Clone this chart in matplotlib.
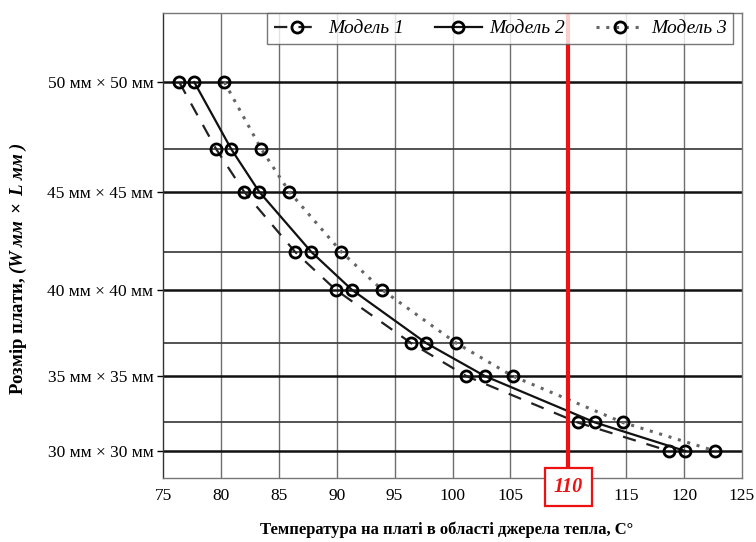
import numpy as np
import matplotlib.pyplot as plt

plt.rcParams['font.family'] = ['Liberation Serif', 'DejaVu Serif']
plt.rcParams['mathtext.fontset'] = 'custom'
plt.rcParams['mathtext.rm'] = 'Liberation Serif'
plt.rcParams['mathtext.it'] = 'Liberation Serif:italic'
plt.rcParams['mathtext.bf'] = 'Liberation Serif:bold'
plt.rcParams['mathtext.bfit'] = 'Liberation Serif:italic:bold'

# board side (mm); y axis is the board area W x L
sides = [50, 47, 45, 42, 40, 37, 35, 32, 30]
major_sides = [50, 45, 40, 35, 30]

model_1 = [76.4, 79.6, 82.0, 86.4, 89.9, 96.4, 101.2, 110.8, 118.7]
model_2 = [77.7, 80.9, 83.3, 87.8, 91.3, 97.7, 102.8, 112.3, 120.1]
model_3 = [80.3, 83.5, 85.9, 90.4, 93.9, 100.3, 105.2, 114.7, 122.7]

x_ticks = [75, 80, 85, 90, 95, 100, 105, 110, 115, 120, 125]
t_limit = 110

area = np.array(sides) ** 2

fig = plt.figure(figsize=(7.56, 5.42), dpi=100)
ax = fig.add_axes([163 / 756, 64 / 542, 579 / 756, 465 / 542])

ax.set_xlim(75, 125)
ax.set_ylim(783, 2800)

# grid
for x in x_ticks[1:-1]:
    ax.axvline(x, color='#6e6e6e', lw=1.0, zorder=1)
for s in sides:
    if s in major_sides:
        ax.axhline(s ** 2, color='#111111', lw=1.8, zorder=1)
    else:
        ax.axhline(s ** 2, color='#444444', lw=1.3, zorder=1)

mk = dict(marker='o', markersize=8, markerfacecolor='none',
          markeredgecolor='black', markeredgewidth=2.0)
ax.plot(model_1, area, color='#222222', lw=1.6, ls=(0, (6, 5)),
        label='Модель 1', zorder=3, **mk)
ax.plot(model_2, area, color='#111111', lw=1.6, ls='-',
        label='Модель 2', zorder=3, **mk)
ax.plot(model_3, area, color='#666666', lw=2.2, ls=(0, (1, 2.2)),
        label='Модель 3', zorder=3, **mk)

ax.axvline(t_limit, color='#ee1111', lw=3, zorder=4)

ax.set_xticks(x_ticks)
ax.set_xticklabels(['' if v == t_limit else str(v) for v in x_ticks], fontsize=12.5)
ax.tick_params(axis='x', length=0, pad=7)
ax.text(t_limit, 745, str(t_limit), ha='center', va='center',
        fontsize=14.5, fontweight='bold', fontstyle='italic', color='#ee1111',
        bbox=dict(boxstyle='square,pad=0.45', fc='white', ec='#ee1111', lw=1.6),
        zorder=6, clip_on=False)

ax.set_yticks([s ** 2 for s in major_sides])
ax.set_yticklabels(['%d мм × %d мм' % (s, s) for s in major_sides], fontsize=12.5)
ax.tick_params(axis='y', length=4, width=1, pad=3)

for sp in ax.spines.values():
    sp.set_color('#777777')
    sp.set_linewidth(1.0)
ax.spines['left'].set_color('#333333')

ax.set_xlabel('Температура на платі в області джерела тепла, C°',
              fontsize=12, fontweight='bold')
ax.xaxis.set_label_coords(0.49, -0.093)
ax.set_ylabel(r'Розмір плати, $\mathbfit{(W\ мм\ \times\ L\ мм\ )}$',
              fontsize=13.5, fontweight='bold')
ax.yaxis.set_label_coords(-0.231, 0.45)

leg = ax.legend(loc='upper left', bbox_to_anchor=(104 / 579, 1.0), ncol=3,
                frameon=True, fancybox=False, edgecolor='#555555',
                prop={'family': 'Liberation Serif', 'style': 'italic', 'size': 14},
                handlelength=2.4, columnspacing=1.6, handletextpad=0.4,
                borderpad=0.35, borderaxespad=0)
leg.get_frame().set_linewidth(1.0)
leg.set_zorder(10)

fig.savefig('out.png', dpi=100)
